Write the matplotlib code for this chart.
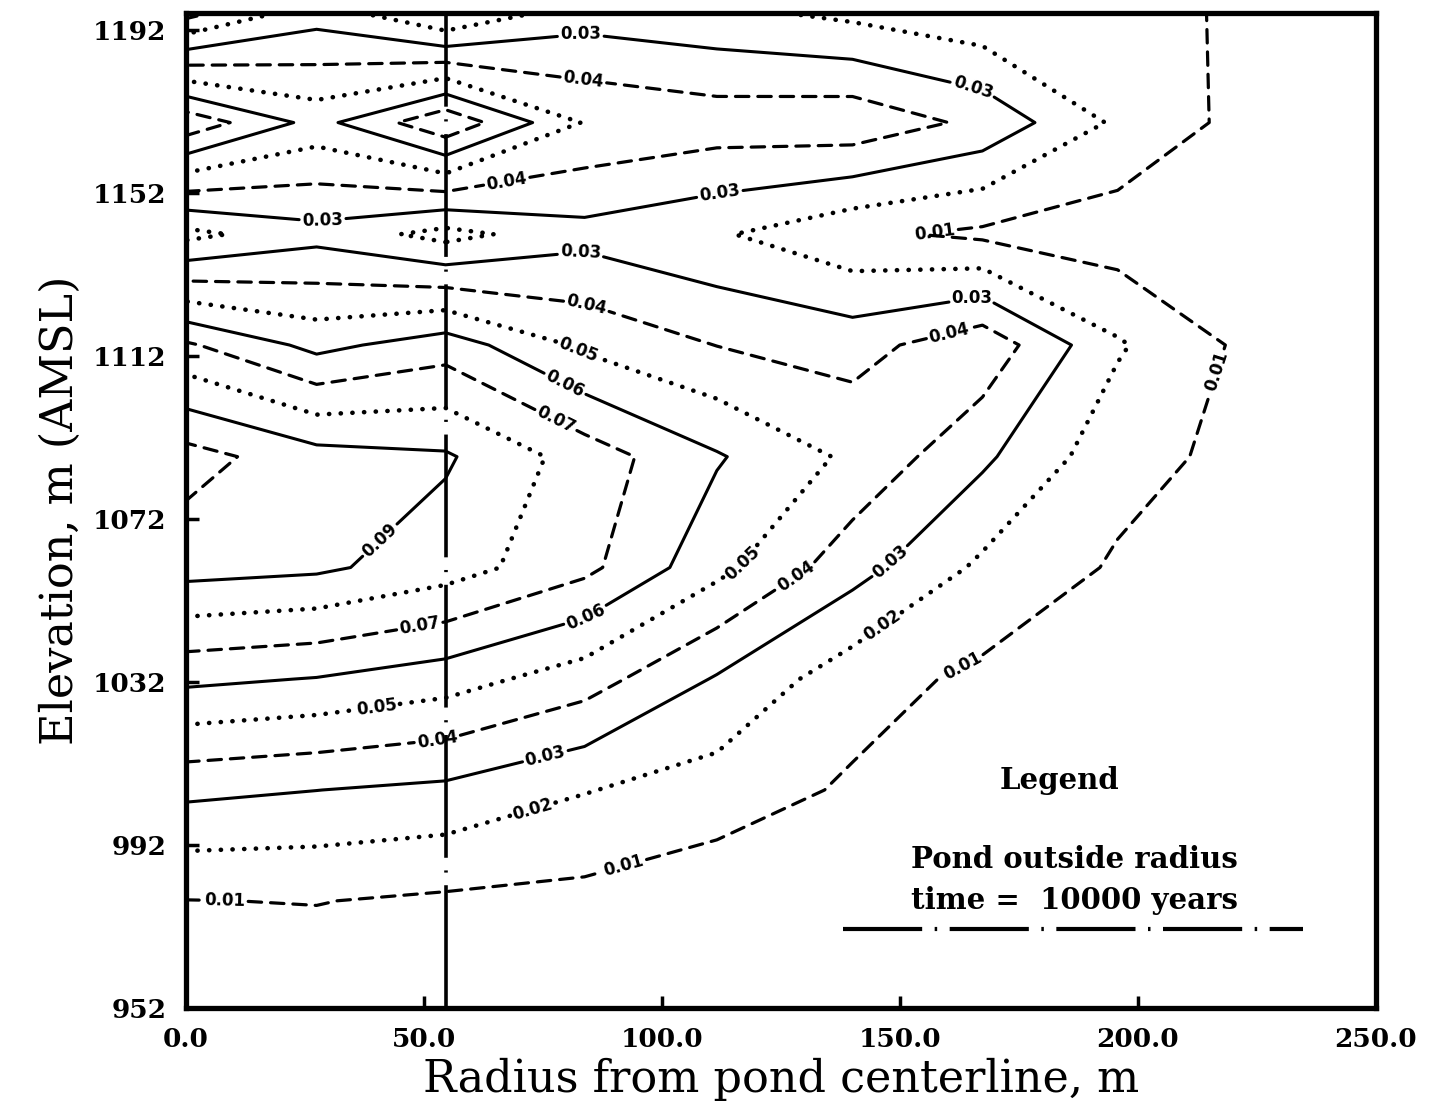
import matplotlib
matplotlib.use("Agg")
import matplotlib.pyplot as plt
import numpy as np

# model grid: radius from pond centerline (m) and elevation (m AMSL, top to bottom)
radius = [0.0, 27.5, 54.6, 83.8, 111.6, 140.1, 167.4, 195.8, 223.5, 250.0]
elevation = [1196.7, 1169.3, 1141.9, 1114.7, 1087.3, 1060.1, 1032.7, 1005.5, 978.3, 950.8]

# concentration at each node, one row per elevation
conc = [
    [0.005, 0.0248, 0.0075, 0.025, 0.022, 0.017, 0.012, 0.016, 0.0071, 0.003],
    [0.077, 0.0564, 0.0781, 0.0492, 0.0455, 0.047, 0.0375, 0.0182, 0.0064, 0.003],
    [0.017, 0.0265, 0.0165, 0.0266, 0.0212, 0.012, 0.008, 0.0047, 0.003, 0.002],
    [0.0715, 0.057, 0.0654, 0.048, 0.0398, 0.036, 0.047, 0.0212, 0.0075, 0.003],
    [0.104, 0.0939, 0.0913, 0.0755, 0.061, 0.048, 0.032, 0.0135, 0.0071, 0.003],
    [0.094, 0.0919, 0.0847, 0.0727, 0.053, 0.034, 0.018, 0.0088, 0.004, 0.002],
    [0.0622, 0.0595, 0.0545, 0.0447, 0.029, 0.0142, 0.0078, 0.004, 0.002, 0.001],
    [0.0325, 0.0301, 0.0278, 0.0205, 0.0154, 0.0086, 0.005, 0.003, 0.002, 0.001],
    [0.0098, 0.0103, 0.0084, 0.0071, 0.0034, 0.003, 0.002, 0.0015, 0.001, 0.001],
    [0.003, 0.003, 0.0025, 0.002, 0.0015, 0.001, 0.001, 0.001, 0.001, 0.0005],
]

levels = [0.01, 0.02, 0.03, 0.04, 0.05, 0.06, 0.07, 0.08, 0.09, 0.10]
pond_radius = 54.6
time_years = 10000

# where the contour values are written (radius, elevation)
label_spots = [
    (165.3, 1177.3), (83.0, 1191.0), (83.6, 1180.2), (67.4, 1155.2),
    (112.2, 1152.0), (28.8, 1144.6), (83.0, 1137.3), (157.4, 1142.9),
    (84.2, 1124.5), (165.3, 1125.7), (160.5, 1117.2), (82.1, 1113.0),
    (80.0, 1105.9), (78.2, 1097.3), (215.8, 1108.6), (40.8, 1066.8),
    (117.4, 1060.7), (128.4, 1057.8), (148.1, 1061.4), (49.2, 1045.5),
    (84.2, 1047.7), (147.3, 1044.3), (163.7, 1034.9), (40.1, 1026.1),
    (52.9, 1017.8), (75.6, 1013.6), (73.3, 999.4), (92.2, 986.4),
    (8.2, 977.8),
]

SERIF = "DejaVu Serif"
DASH = (0, (4.2, 2.8))
DOT = (0, (0.05, 2.5))

fig = plt.figure(figsize=(14.51, 11.17), dpi=100)
ax = fig.add_axes([0.128, 0.0976, 0.820, 0.8908])

X, Y = np.meshgrid(radius, elevation[::-1])
Z = np.array(conc)[::-1]

# dashed / dotted / solid repeat through the levels
styles = ([DASH, DOT, "solid"] * 4)[:len(levels)]
widths = ([2.3, 3.3, 2.2] * 4)[:len(levels)]
cs = ax.contour(X, Y, Z, levels=levels, colors="black", linewidths=widths,
                linestyles=styles)
cs.set_capstyle("round")

with plt.rc_context({"font.weight": "bold", "font.family": "DejaVu Sans"}):
    ax.clabel(cs, manual=label_spots, fmt="%.2f", fontsize=12,
              inline=True, inline_spacing=3)

# pond outside radius
ax.axvline(pond_radius, color="black", lw=2.6, linestyle=(0, (34, 3.5, 0.6, 3.5)))

# legend block (drawn by hand, as in the original figure)
ax.text(0.734, 0.229, "Legend", transform=ax.transAxes, ha="center", va="center",
        fontsize=21, fontweight="bold", family=SERIF)
ax.text(0.747, 0.149, "Pond outside radius", transform=ax.transAxes, ha="center",
        va="center", fontsize=21, fontweight="bold", family=SERIF)
ax.text(0.747, 0.108, f"time =  {time_years} years", transform=ax.transAxes,
        ha="center", va="center", fontsize=21, fontweight="bold", family=SERIF)
ax.plot([0.552, 0.939], [0.079, 0.079], transform=ax.transAxes, color="black",
        lw=3.0, linestyle=(0, (19, 3, 0.6, 3)))

ax.set_xlim(0, 250)
ax.set_ylim(952, 1196.2)
xt = np.arange(0, 251, 50)
ax.set_xticks(xt)
ax.set_xticklabels([f"{v:.1f}" for v in xt])
yt = np.arange(952, 1193, 40)
ax.set_yticks(yt)
ax.set_yticklabels([str(v) for v in yt])
ax.tick_params(direction="in", length=9, width=2.5, labelsize=19, pad=14)
for lbl in ax.get_xticklabels() + ax.get_yticklabels():
    lbl.set_fontfamily(SERIF)
    lbl.set_fontweight("bold")
for sp in ax.spines.values():
    sp.set_linewidth(3.8)

ax.set_xlabel("Radius from pond centerline, m", fontsize=32, family=SERIF, labelpad=4)
ax.set_ylabel("Elevation, m (AMSL)", fontsize=32, family=SERIF, labelpad=8)

fig.savefig("out.png", dpi=100, facecolor="white")
